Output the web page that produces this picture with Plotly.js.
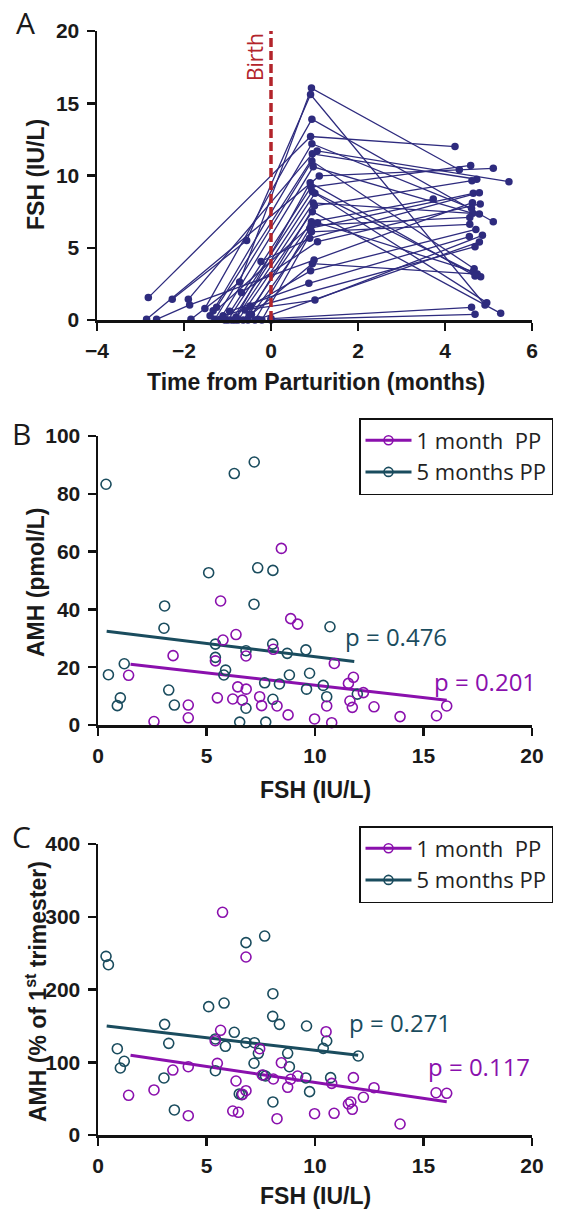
<!DOCTYPE html>
<html>
<head>
<meta charset="utf-8">
<script src="https://cdn.plot.ly/plotly-3.0.1.min.js"></script>
<style>html,body{margin:0;padding:0;background:#fff;}#chart{width:562px;height:1212px;}</style>
</head>
<body>
<div id="chart"></div>
<script>
// ---------- Panel A: FSH per subject across visits (months from parturition, IU/L) ----------
const earlyPregT = [null,null,-2.63,-2.27,-1.84,null,null,null,null,null,null,null,null,null,null,null,null,null,null,null,null,null,null,null,null,null,null,null,null,null,null,null,null];
const earlyPregF = [null,null,0.05,1.43,0.05,null,null,null,null,null,null,null,null,null,null,null,null,null,null,null,null,null,null,null,null,null,null,null,null,null,null,null,null];
const latePregT = [-2.82,-2.86,-1.87,-0.56,-0.72,-1.9,-1.52,-1.33,-1.25,-1.29,-1.17,-1.06,-0.99,-0.9,-0.83,-0.76,-0.64,-0.53,-0.37,-0.21,0.0,-0.23,-0.68,-0.48,-0.95,-0.6,-1.4,-0.3,-1.1,-0.45,-0.8,0.0,-0.5];
const latePregF = [1.55,0.05,1.04,5.5,2.63,1.43,0.8,0.64,0.88,0.05,0.05,0,0,0,0,0,0,0,0,0,0,4.05,1.9,0.97,0.6,0.7,0.3,0.05,0.3,0.4,0.2,0.1,0.4];
const month1T = [0.91,1.11,0.99,0.91,0.93,0.95,0.94,0.94,1.06,0.94,0.97,0.92,0.95,1.01,0.97,0.95,0.93,1.07,0.89,0.93,null,0.89,1.07,0.91,0.87,1.01,0.92,null,null,0.95,0.9,null,1.0];
const month1F = [12.7,9.97,4.15,15.6,16.05,11.5,13.9,12.2,11.7,11.0,10.6,9.2,8.9,8.77,8.1,7.5,6.8,6.73,6.34,6.1,null,5.65,5.42,3.4,2.54,1.38,6.55,null,null,3.9,9.5,null,7.9];
const month5T = [4.23,5.11,4.63,4.92,4.33,4.73,5.11,4.61,5.47,4.67,4.64,4.59,4.82,4.96,4.79,5.28,3.73,4.65,4.65,4.57,4.69,4.79,4.81,4.71,4.56,4.86,4.57,4.79,4.69,4.74,4.69,4.61,4.62];
const month5F = [12.0,10.5,8.12,1.04,10.4,9.74,6.8,7.73,9.57,3.55,7.38,10.7,3.0,1.2,7.34,0.46,8.37,3.34,8.77,6.62,0.39,8.81,8.03,6.27,5.77,5.86,7.1,5.4,5.07,3.18,3.05,0.88,9.64];

// ---------- Panel B: AMH (pmol/L) vs FSH (IU/L) ----------
const b1mFSH = [8.45,5.65,8.88,9.2,6.36,5.76,8.08,6.82,3.46,5.41,1.41,6.44,6.83,5.5,6.21,6.65,7.45,4.16,7.54,8.25,4.16,8.76,2.58,9.98,10.89,11.77,11.54,12.23,11.61,10.54,11.72,12.72,10.77,13.92,15.6,16.07];
const b1mAMH = [61.1,42.9,36.8,34.9,31.3,29.4,26.2,23.9,24.0,22.2,17.2,13.2,12.4,9.4,9.0,8.6,9.8,6.9,6.7,6.6,2.5,3.5,1.2,2.1,21.3,16.5,14.4,11.2,8.3,6.6,6.1,6.3,0.8,2.9,3.2,6.6];
const b5mFSH = [0.37,6.28,7.2,5.1,7.36,8.06,3.07,7.19,3.04,5.41,6.82,8.05,8.72,9.58,5.41,1.21,0.48,5.88,5.8,8.82,9.75,7.68,8.36,3.26,9.61,1.03,0.89,3.52,8.06,6.82,6.53,7.73,10.69,10.38,10.54,11.95];
const b5mAMH = [83.3,87.0,91.0,52.7,54.4,53.5,41.2,41.8,33.5,28.0,25.7,28.0,24.8,26.0,23.4,21.2,17.4,19.0,17.3,17.3,17.9,14.6,14.2,12.1,12.4,9.4,6.7,6.9,8.9,5.8,1.0,1.0,34.0,13.7,9.8,10.7];
const bFit1mX = [1.5,16.07], bFit1mY = [21.0,8.6];
const bFit5mX = [0.4,11.81], bFit5mY = [32.4,22.0];

// ---------- Panel C: AMH (% of 1st trimester) vs FSH (IU/L) ----------
const c1mFSH = [5.74,6.82,5.65,5.4,7.45,5.5,8.45,3.45,4.16,7.57,8.08,8.88,9.2,8.74,6.36,6.82,6.66,1.41,2.58,6.21,6.47,4.16,8.25,9.98,10.51,11.77,10.77,12.72,12.23,11.54,11.65,11.72,10.88,13.92,15.58,16.07];
const c1mAMH = [306.1,244.7,143.9,129.6,118.6,98.5,99.4,89.3,93.9,82.5,77,76.6,81.1,65.6,74.2,60.9,55.9,54.6,61.9,33,31.2,26.5,22.4,29.3,142,78.8,71,65,51.8,42.6,45.4,35.3,29.8,15.1,58.1,57.3];
const c5mFSH = [0.37,0.48,6.82,7.68,8.06,5.1,5.81,8.05,8.36,9.61,3.07,6.28,5.41,3.26,5.87,6.82,7.21,7.39,8.74,7.19,8.82,0.89,1.03,1.21,3.04,5.41,7.62,7.72,9.58,9.75,6.51,6.62,8.06,3.52,10.54,10.38,11.99,10.72];
const c5mAMH = [245.6,234.1,264.4,273.5,194.2,176.4,181.4,163.1,152.1,149.8,152.1,141.2,132,126,121.9,126.9,126.9,112.3,112.3,98.6,93.9,118.6,92.1,101.3,78.4,88.4,82.1,81.1,78.4,59.6,56.4,55.4,45.4,34.4,129.2,119.1,108.6,78.8];
const cFit1mX = [1.5,16.07], cFit1mY = [109.5,45.8];
const cFit5mX = [0.4,11.99], cFit5mY = [149.8,109.5];

const seriesNames = ['1 month\u00a0 PP','5 months PP'];
const pLabelsB = ['p = 0.476','p = 0.201'];
const pLabelsC = ['p = 0.271','p = 0.117'];

// ---------- build ----------
const W = 562, H = 1212;
const fx = p => p / W, fy = p => 1 - p / H;
const NAVY = '#2e2b7e', PURPLE = '#8a10ad', TEAL = '#1a4c5e', RED = '#b3242b';
const SANS = 'Liberation Sans, Arial, sans-serif';

// Panel A trace: subjects separated by nulls
const ax = [], ay = [];
for (let i = 0; i < latePregT.length; i++) {
  const pts = [[earlyPregT[i], earlyPregF[i]], [latePregT[i], latePregF[i]], [month1T[i], month1F[i]], [month5T[i], month5F[i]]];
  pts.forEach(p => { if (p[0] !== null && p[1] !== null) { ax.push(p[0]); ay.push(p[1]); } });
  ax.push(null); ay.push(null);
}

function axisCfg(domain, range, dtick, anchor, isX) {
  return {
    domain: domain, range: range, dtick: dtick, tick0: range[0], anchor: anchor,
    showline: true, linecolor: '#111', linewidth: 2.5, mirror: false,
    ticks: 'outside', ticklen: 8, tickwidth: 2.5, tickcolor: '#111',
    showgrid: false, zeroline: false, fixedrange: true,
    tickprefix: '<b>', ticksuffix: '</b>',
    tickfont: {family: SANS, size: 21, color: '#1a1a1a'}, ticklabelstandoff: isX ? 2 : 3
  };
}

function legendEntry(name, color, xa, ya, leg) {
  return {x: [null], y: [null], xaxis: xa, yaxis: ya, mode: 'lines+markers', name: name, legend: leg,
    line: {color: color, width: 3}, marker: {symbol: 'circle-open', size: 9, color: color, line: {width: 1.6, color: color}}};
}
function pts(x, y, color, xa, ya) {
  return {x: x, y: y, xaxis: xa, yaxis: ya, mode: 'markers', cliponaxis: false, showlegend: false,
    marker: {symbol: 'circle-open', size: 10, color: color, line: {width: 1.6, color: color}}};
}
function fit(x, y, color, xa, ya) {
  return {x: x, y: y, xaxis: xa, yaxis: ya, mode: 'lines', line: {color: color, width: 3}, showlegend: false};
}

const traces = [
  {x: ax, y: ay, xaxis: 'x', yaxis: 'y', mode: 'lines+markers', connectgaps: false, cliponaxis: false,
   line: {color: NAVY, width: 1.3}, marker: {color: NAVY, size: 7.5}, showlegend: false, hoverinfo: 'skip'},
  fit(bFit5mX, bFit5mY, TEAL, 'x2', 'y2'),
  fit(bFit1mX, bFit1mY, PURPLE, 'x2', 'y2'),
  pts(b5mFSH, b5mAMH, TEAL, 'x2', 'y2'),
  pts(b1mFSH, b1mAMH, PURPLE, 'x2', 'y2'),
  legendEntry(seriesNames[0], PURPLE, 'x2', 'y2', 'legend'),
  legendEntry(seriesNames[1], TEAL, 'x2', 'y2', 'legend'),
  fit(cFit5mX, cFit5mY, TEAL, 'x3', 'y3'),
  fit(cFit1mX, cFit1mY, PURPLE, 'x3', 'y3'),
  pts(c5mFSH, c5mAMH, TEAL, 'x3', 'y3'),
  pts(c1mFSH, c1mAMH, PURPLE, 'x3', 'y3'),
  legendEntry(seriesNames[0], PURPLE, 'x3', 'y3', 'legend2'),
  legendEntry(seriesNames[1], TEAL, 'x3', 'y3', 'legend2')
];

const LETTERFONT = {family: 'Open Sans, sans-serif', size: 30, color: '#1a1a1a'};
function pAnn(text, x, y, color) {
  return {text: text, x: fx(x), y: fy(y), xref: 'paper', yref: 'paper', xanchor: 'left', yanchor: 'middle', showarrow: false,
    font: {family: 'Open Sans, sans-serif', size: 24, color: color}};
}
function tAnn(text, x, y, rot) {
  return {text: '<b>' + text + '</b>', x: fx(x), y: fy(y), xref: 'paper', yref: 'paper', xanchor: 'center', yanchor: 'middle',
    showarrow: false, textangle: rot || 0, font: {family: SANS, size: 23, color: '#1a1a1a'}};
}
function letter(t, x, y) {
  return {text: t, x: fx(x), y: fy(y), xref: 'paper', yref: 'paper', xanchor: 'center', yanchor: 'middle', showarrow: false, font: LETTERFONT};
}

const legendBase = {xanchor: 'left', yanchor: 'top', bgcolor: '#fff', bordercolor: '#111', borderwidth: 1.5,
  font: {family: 'Open Sans, sans-serif', size: 22, color: '#222'}, traceorder: 'normal', itemwidth: 46};

const layout = {
  width: W, height: H, margin: {l: 0, r: 0, t: 0, b: 0}, paper_bgcolor: '#fff', plot_bgcolor: 'rgba(0,0,0,0)',
  xaxis: axisCfg([fx(97), fx(532)], [-4, 6], 2, 'y', true),
  yaxis: axisCfg([fy(320), fy(31)], [0, 20], 5, 'x', false),
  xaxis2: axisCfg([fx(98), fx(532)], [0, 20], 5, 'y2', true),
  yaxis2: axisCfg([fy(725), fy(436)], [0, 100], 20, 'x2', false),
  xaxis3: axisCfg([fx(98), fx(532)], [0, 20], 5, 'y3', true),
  yaxis3: axisCfg([fy(1135), fy(844)], [0, 400], 100, 'x3', false),
  legend: Object.assign({x: fx(359), y: fy(418)}, legendBase),
  legend2: Object.assign({x: fx(359), y: fy(826)}, legendBase),
  shapes: [
    {type: 'line', xref: 'x', yref: 'y', x0: 0, x1: 0, y0: 0, y1: 20, line: {color: RED, width: 3.5, dash: '9px,4px'}}
  ],
  annotations: [
    letter('A', 25, 22), letter('B', 21, 434), letter('C', 21, 836),
    tAnn('FSH (IU/L)', 36, 175, -90),
    tAnn('Time from Parturition (months)', 316, 382),
    tAnn('AMH (pmol/L)', 36, 583, -90),
    tAnn('FSH (IU/L)', 315, 790),
    tAnn('AMH (% of 1<sup>st</sup> trimester)', 36, 992, -90),
    tAnn('FSH (IU/L)', 315, 1196),
    {text: 'Birth', x: fx(271), y: fy(31), xref: 'paper', yref: 'paper', xanchor: 'right', yanchor: 'top',
     showarrow: false, textangle: -90, font: {family: 'Open Sans, sans-serif', size: 21, color: RED}},
    pAnn(pLabelsB[0], 343, 637, TEAL),
    pAnn(pLabelsB[1], 432, 681, PURPLE),
    pAnn(pLabelsC[0], 347, 1022, TEAL),
    pAnn(pLabelsC[1], 426, 1066, PURPLE)
  ]
};

Plotly.newPlot('chart', traces, layout, {staticPlot: true, displayModeBar: false});
</script>
</body>
</html>
